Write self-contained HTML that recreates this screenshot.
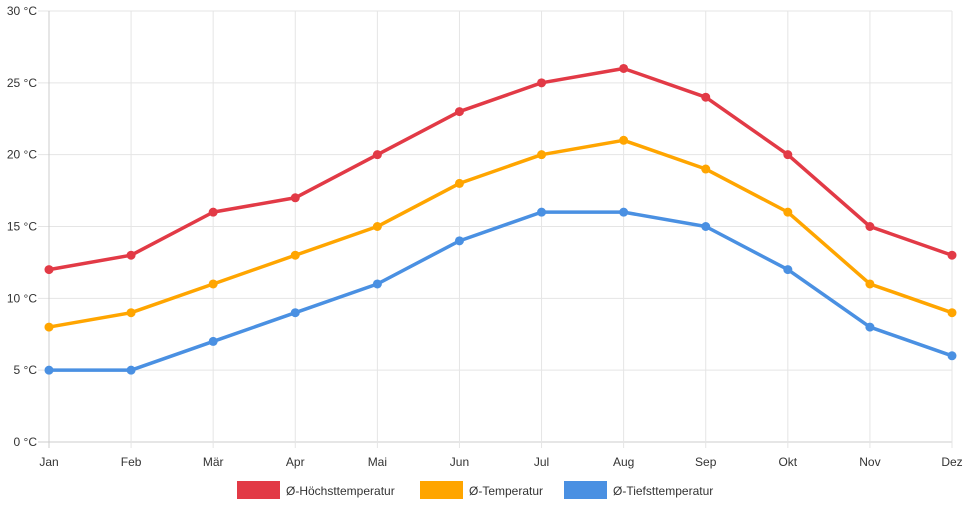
<!DOCTYPE html>
<html><head><meta charset="utf-8"><style>
body{margin:0;background:#fff;font-family:"Liberation Sans",sans-serif}
svg{display:block}
text{font-size:12px;fill:#333}
</style></head><body>
<svg id="c" width="968" height="508"></svg>
<script>
const months=["Jan","Feb","Mär","Apr","Mai","Jun","Jul","Aug","Sep","Okt","Nov","Dez"];
const highs=[12,13,16,17,20,23,25,26,24,20,15,13];
const avgs=[8,9,11,13,15,18,20,21,19,16,11,9];
const lows=[5,5,7,9,11,14,16,16,15,12,8,6];
const yTicks=[0,5,10,15,20,25,30];
const seriesNames=["Ø-Höchsttemperatur","Ø-Temperatur","Ø-Tiefsttemperatur"];
const colors=["#e23a46","#ffa500","#4a90e2"];
const svg=document.getElementById('c');
const NS="http://www.w3.org/2000/svg";
const x0=49,x1=952,y0=442,y1=11;
const X=i=>x0+(x1-x0)*i/(months.length-1);
const Y=v=>y0-(y0-y1)*v/30;
function mk(t,a,p){const e=document.createElementNS(NS,t);for(const k in a)e.setAttribute(k,a[k]);(p||svg).appendChild(e);return e;}
yTicks.forEach(v=>{
  const l=mk('line',{x1:38,x2:x1,y1:Y(v),y2:Y(v),stroke:v===0?'#ccc':'#e5e5e5'});
  
  
  const t=mk('text',{x:37,y:Y(v)+4,'text-anchor':'end'});t.textContent=v+' °C';
  
  
});
months.forEach((m,i)=>{
  const l=mk('line',{x1:X(i),x2:X(i),y1:y1,y2:y0+6,stroke:i===0?'#ccc':'#e5e5e5'});
  
  
  const t=mk('text',{x:X(i),y:466,'text-anchor':'middle'});t.textContent=m;
  
  
});
[highs,avgs,lows].forEach((d,s)=>{
  const g=mk('g',{});
  
  
  const p=mk('polyline',{points:d.map((v,i)=>X(i)+','+Y(v)).join(' '),fill:'none',stroke:colors[s],'stroke-width':3.5,'stroke-linejoin':'round'},g);
  
  
  d.forEach((v,i)=>{
    const c=mk('circle',{cx:X(i),cy:Y(v),r:4.5,fill:colors[s]},g);
    
    
  });
});
const lx=[237,420,564];
seriesNames.forEach((n,s)=>{
  const g=mk('g',{});
  
  
  mk('rect',{x:lx[s],y:481,width:43,height:18,fill:colors[s]},g);
  const t=mk('text',{x:lx[s]+49,y:495},g);t.textContent=n;
});
</script>
</body></html>
